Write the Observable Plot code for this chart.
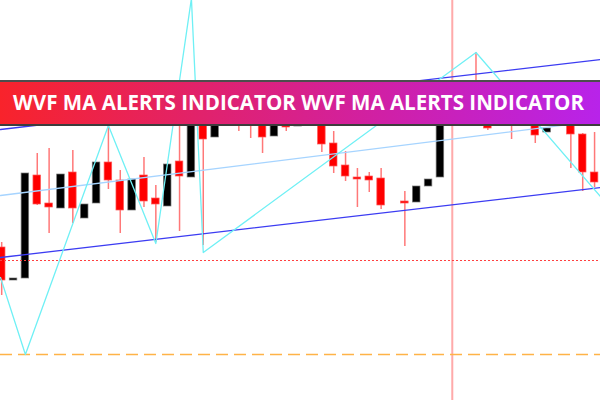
<!DOCTYPE html>
<html>
<head>
<meta charset="utf-8">
<script src="https://cdn.jsdelivr.net/npm/d3@7"></script>
<script src="https://cdn.jsdelivr.net/npm/@observablehq/plot@0.6"></script>
<style>
  html, body { margin: 0; padding: 0; background: #fff; }
  #wrap { position: relative; width: 600px; height: 400px; overflow: hidden; background: #fff; }
  #banner {
    position: absolute; left: 0; top: 80px; width: 600px; height: 46px;
    box-sizing: border-box;
    border-top: 2px solid #4d4d4d; border-bottom: 2px solid #3d3d3d;
    background: linear-gradient(90deg, #f8232b 0%, #e0226e 35%, #cf20a8 65%, #b823ea 100%);
  }
  #banner svg { position: absolute; left: 0; top: 0; }
</style>
</head>
<body>
<div id="wrap">
  <div id="chart"></div>
  <div id="banner">
    <svg width="600" height="42">
      <text x="13" y="27.5" fill="#ffffff" font-family="'Open Sans', 'DejaVu Sans', sans-serif"
            font-weight="700" font-size="21" textLength="571" lengthAdjust="spacingAndGlyphs">WVF MA ALERTS INDICATOR WVF MA ALERTS INDICATOR</text>
    </svg>
  </div>
</div>
<script>
// Candle data (bar index and prices)
const candleIdx = [0,1,2,3,4,5,6,7,8,9,10,11,12,13,14,15,16,17,18,19,20,21,22,23,24,25,26,27,28,29,30,31,32,34,35,36,37,40,41,43,45,46,48,49,50];
const openP  = [153,120,122,225,197,192,228,182,197,238,220,190,225,202,194,239,223,292,263,304,300,296,294,264,278,274,296,290,257,235,223,224,222,199,198,214,223,304,290,296,285,268,290,266,228];
const closeP = [120,122,227,196,193,226,192,196,238,220,190,221,199,196,236,224,308,261,296,284,278,276,263,300,273,280,282,256,234,224,221,220,195,197,214,221,292,284,272,278,265,272,266,228,218];
const highP  = [158,122,227,247,252,226,250,196,238,276,230,221,243,215,236,290,312,300,298,310,305,302,300,302,284,286,300,296,269,249,232,228,232,209,214,221,298,348,296,300,292,274,296,267,268];
const lowP   = [105,120,122,195,167,192,177,182,197,211,167,190,193,158,194,169,223,155,263,282,269,262,247,264,269,274,280,248,227,219,193,208,191,154,198,214,223,280,270,261,257,268,232,209,213];

// ZigZag indicator
const zigIdx   = [-0.1, 2, 9, 13, 16, 17, 40, 50.5];
const zigPrice = [123, 46, 275, 157, 402, 148, 348, 204];

// Channel lines
const chanIdx   = [-0.1, 50.5];
const lowerBlue = [143, 213];
const upperBlue = [271, 341];
const midLight  = [205, 280];

// Horizontal levels and vertical marker
const redLevel = [140];
const orangeLevel = [46];
const markerIdx = [38];

const candles = candleIdx.map((i, k) => ({
  i, open: openP[k], close: closeP[k], high: highP[k], low: lowP[k],
  up: closeP[k] > openP[k]
}));
const line = (ys, xs) => xs.map((x, k) => ({x, y: ys[k]}));
const W = 0.32;

const chart = Plot.plot({
  width: 600,
  height: 400,
  margin: 0,
  style: {background: "transparent"},
  x: {domain: [-0.1, 50.5], axis: null},
  y: {domain: [0, 400], axis: null},
  marks: [
    Plot.ruleX(markerIdx, {stroke: "#ffaaaa", strokeWidth: 2}),
    Plot.ruleX(candles.filter(d => !d.up), {x: "i", y1: "low", y2: "high", stroke: "#ff7878", strokeWidth: 1.5}),
    Plot.rect(candles, {
      x1: d => d.i - W, x2: d => d.i + W,
      y1: d => Math.min(d.open, d.close), y2: d => Math.max(d.open, d.close),
      fill: d => d.up ? "#000000" : "#ff0000",
      stroke: d => d.up ? "#777777" : "#ff5a5a",
      strokeWidth: 0.7
    }),
    Plot.ruleY(redLevel, {stroke: "#ff4040", strokeWidth: 1.2, strokeDasharray: "2,2"}),
    Plot.ruleY(orangeLevel, {stroke: "#ffb347", strokeWidth: 1.6, strokeDasharray: "12,6"}),
    Plot.line(line(midLight, chanIdx), {x: "x", y: "y", stroke: "#a6d4ff", strokeWidth: 1.3}),
    Plot.line(line(lowerBlue, chanIdx), {x: "x", y: "y", stroke: "#3c3cf2", strokeWidth: 1.3}),
    Plot.line(line(upperBlue, chanIdx), {x: "x", y: "y", stroke: "#3c3cf2", strokeWidth: 1.3}),
    Plot.line(line(zigPrice, zigIdx), {x: "x", y: "y", stroke: "#6ff0f5", strokeWidth: 1.3, clip: true})
  ]
});
document.getElementById("chart").appendChild(chart);
</script>
</body>
</html>
